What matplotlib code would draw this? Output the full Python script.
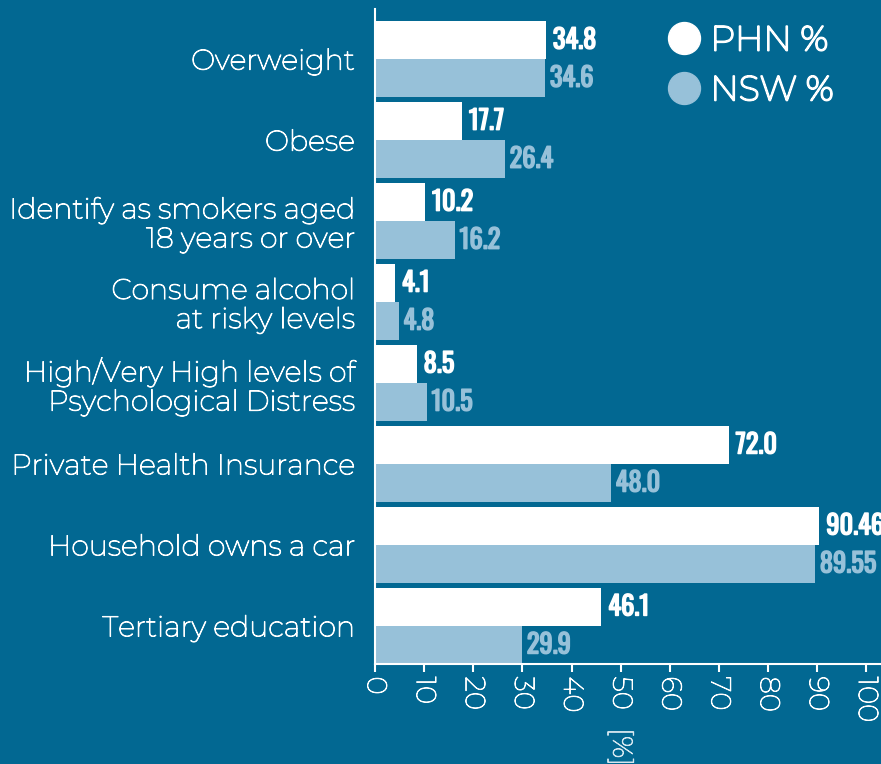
import numpy as np
import matplotlib
matplotlib.use('Agg')
import matplotlib.pyplot as plt
import matplotlib.patheffects as pe
from matplotlib.lines import Line2D

categories = ['Overweight', 'Obese', 'Identify as smokers aged\n18 years or over',
              'Consume alcohol\nat risky levels',
              'High/Very High levels of\nPsychological Distress',
              'Private Health Insurance', 'Household owns a car',
              'Tertiary education']
phn = [34.8, 17.7, 10.2, 4.1, 8.5, 72.0, 90.46, 46.1]
nsw = [34.6, 26.4, 16.2, 4.8, 10.5, 48.0, 89.55, 29.9]
phn_labels = ['34.8', '17.7', '10.2', '4.1', '8.5', '72.0', '90.46', '46.1']
nsw_labels = ['34.6', '26.4', '16.2', '4.8', '10.5', '48.0', '89.55', '29.9']
xticks = [0, 10, 20, 30, 40, 50, 60, 70, 80, 90, 100]

bg = '#026892'
light = '#97c1d9'
label_font = ['Montserrat', 'Lato', 'DejaVu Sans']
num_font = ['Oswald', 'Roboto Condensed', 'Liberation Sans Narrow', 'Roboto']


def thicken(color, lw):
    # the fonts here come out thinner than the original, so outline them a bit
    return [pe.withStroke(linewidth=lw, foreground=color)]


fig = plt.figure(figsize=(8.81, 7.64), dpi=100, facecolor=bg)
ax = fig.add_axes([375 / 881, 100 / 764, 506 / 881, 655 / 764])
ax.set_facecolor(bg)

y = np.arange(len(categories))
h = 0.47
ax.barh(y - h / 2, phn, height=h, color='white')
ax.barh(y + h / 2, nsw, height=h, color=light)

for i in range(len(categories)):
    ax.text(phn[i] + 1.4, y[i] - h / 2, phn_labels[i], color='white', fontsize=19,
            family=num_font, va='center', ha='left',
            path_effects=thicken('white', 1.1))
    ax.text(nsw[i] + 1.0, y[i] + h / 2, nsw_labels[i], color=light, fontsize=19,
            family=num_font, va='center', ha='left',
            path_effects=thicken(light, 1.1))

ax.set_ylim(7.47, -0.62)
ax.set_xlim(0, 103)
ax.set_yticks(y)
ax.set_yticklabels(categories, family=label_font, fontsize=20.6, color='white',
                   fontweight='light', linespacing=1.1)
for lab in ax.get_yticklabels():
    lab.set_path_effects(thicken('white', 0.7))
ax.tick_params(axis='y', length=0, pad=14.5)
ax.set_xticks(xticks)
ax.set_xticklabels([str(t) for t in xticks], rotation=-90, family=label_font,
                   fontweight='light', fontsize=20, color='white')
for lab in ax.get_xticklabels():
    lab.set_path_effects(thicken('white', 0.6))
ax.tick_params(axis='x', colors='white', length=6, width=1.5, pad=3)

for s in ['top', 'right']:
    ax.spines[s].set_visible(False)
for s in ['left', 'bottom']:
    ax.spines[s].set_color('white')
    ax.spines[s].set_linewidth(1.5)

ax.set_xlabel('[%]', rotation=-90, family=label_font, fontweight='light',
              fontsize=20, color='#d6e7f0',
              path_effects=thicken('#d6e7f0', 0.6))
ax.xaxis.set_label_coords(50 / 103, -64 / 655)

handles = [Line2D([], [], marker='o', ls='', markersize=23, color='white'),
           Line2D([], [], marker='o', ls='', markersize=23, color=light)]
leg = fig.legend(handles, ['PHN %', 'NSW %'], loc='upper left', frameon=False,
                 bbox_to_anchor=(667 / 881, 1 - 25 / 764), handlelength=1.0,
                 handletextpad=0.25, labelspacing=0.5, borderpad=0,
                 borderaxespad=0,
                 prop={'family': label_font, 'size': 25})
for t in leg.get_texts():
    t.set_color('white')
    t.set_path_effects(thicken('white', 1.4))

fig.savefig('out.png', dpi=100, facecolor=bg)
